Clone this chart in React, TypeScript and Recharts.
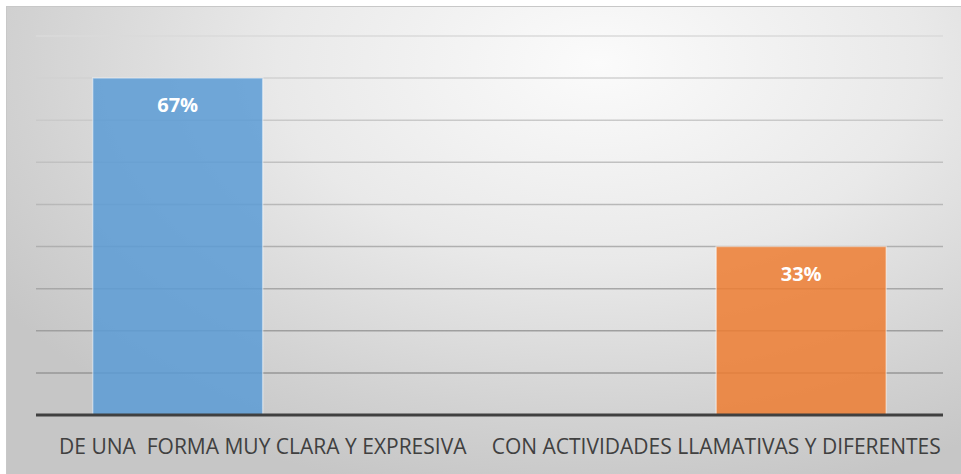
import { Bar, BarChart, CartesianGrid, LabelList, XAxis, YAxis } from "recharts";

const CATEGORIES = [
  "DE UNA  FORMA MUY CLARA Y EXPRESIVA",
  "CON ACTIVIDADES LLAMATIVAS Y DIFERENTES",
];
// each category is its own series, so each bar sits in its own slot of the group
const SERIES_CLARA = [8, null];
const SERIES_ACTIVIDADES = [null, 4];
const LABELS_CLARA = ["67%", null];
const LABELS_ACTIVIDADES = [null, "33%"];
const Y_TICKS = [0, 1, 2, 3, 4, 5, 6, 7, 8, 9];

const BLUE = "#5b9bd5";
const ORANGE = "#ed7d31";
const TEXT = "#404040";
const FONT = "'Open Sans', sans-serif";

const data = CATEGORIES.map((name, i) => ({
  name,
  clara: SERIES_CLARA[i],
  actividades: SERIES_ACTIVIDADES[i],
  claraLabel: LABELS_CLARA[i],
  actividadesLabel: LABELS_ACTIVIDADES[i],
}));

function CategoryTick(props: any) {
  const { x, y, payload } = props;
  return (
    <text
      x={x}
      y={y}
      dy="0.71em"
      textAnchor="middle"
      fill={TEXT}
      fontSize={21}
      fontFamily={FONT}
      style={{ whiteSpace: "pre" }}
    >
      {payload.value}
    </text>
  );
}

export default function App() {
  return (
    <div style={{ position: "absolute", left: 0, top: 0, width: 961, height: 474, background: "#fff" }}>
      <div
        style={{
          position: "absolute",
          left: 6,
          top: 6,
          width: 955,
          height: 468,
          borderTop: "1px solid #c8c8c8",
          borderLeft: "1px solid #c8c8c8",
          boxSizing: "border-box",
          background:
            "radial-gradient(ellipse 75% 95% at 62% 12%, #fbfbfb 0%, #e9e9e9 45%, #d2d2d2 80%, #c6c6c6 100%)",
        }}
      >
        <BarChart
          width={955}
          height={468}
          data={data}
          margin={{ top: 30, right: 18, left: 30, bottom: 0 }}
          barCategoryGap="12.5%"
          barGap={0}
          style={{ position: "absolute", left: -1, top: -1 }}
        >
          <defs>
            <linearGradient id="gridFade" gradientUnits="userSpaceOnUse" x1="0" y1="30" x2="0" y2="409">
              <stop offset="0%" stopColor="#dadada" />
              <stop offset="100%" stopColor="#8e8e8e" />
            </linearGradient>
          </defs>
          <CartesianGrid vertical={false} stroke="url(#gridFade)" strokeWidth={1.5} />
          <YAxis hide domain={[0, 9]} ticks={Y_TICKS} />
          <XAxis
            dataKey="name"
            height={59}
            interval={0}
            tickLine={false}
            tickSize={6}
            tickMargin={18}
            axisLine={{ stroke: TEXT, strokeWidth: 3 }}
            tick={<CategoryTick />}
          />
          <Bar
            dataKey="clara"
            fill={BLUE}
            fillOpacity={0.85}
            stroke="#ffffff"
            strokeOpacity={0.45}
            strokeWidth={1.5}
            isAnimationActive={false}
          >
            <LabelList
              dataKey="claraLabel"
              position="insideTop"
              offset={20}
              fill="#ffffff"
              fontSize={20}
              fontWeight="bold"
              fontFamily={FONT}
            />
          </Bar>
          <Bar
            dataKey="actividades"
            fill={ORANGE}
            fillOpacity={0.85}
            stroke="#ffffff"
            strokeOpacity={0.45}
            strokeWidth={1.5}
            isAnimationActive={false}
          >
            <LabelList
              dataKey="actividadesLabel"
              position="insideTop"
              offset={20}
              fill="#ffffff"
              fontSize={20}
              fontWeight="bold"
              fontFamily={FONT}
            />
          </Bar>
        </BarChart>
      </div>
    </div>
  );
}
